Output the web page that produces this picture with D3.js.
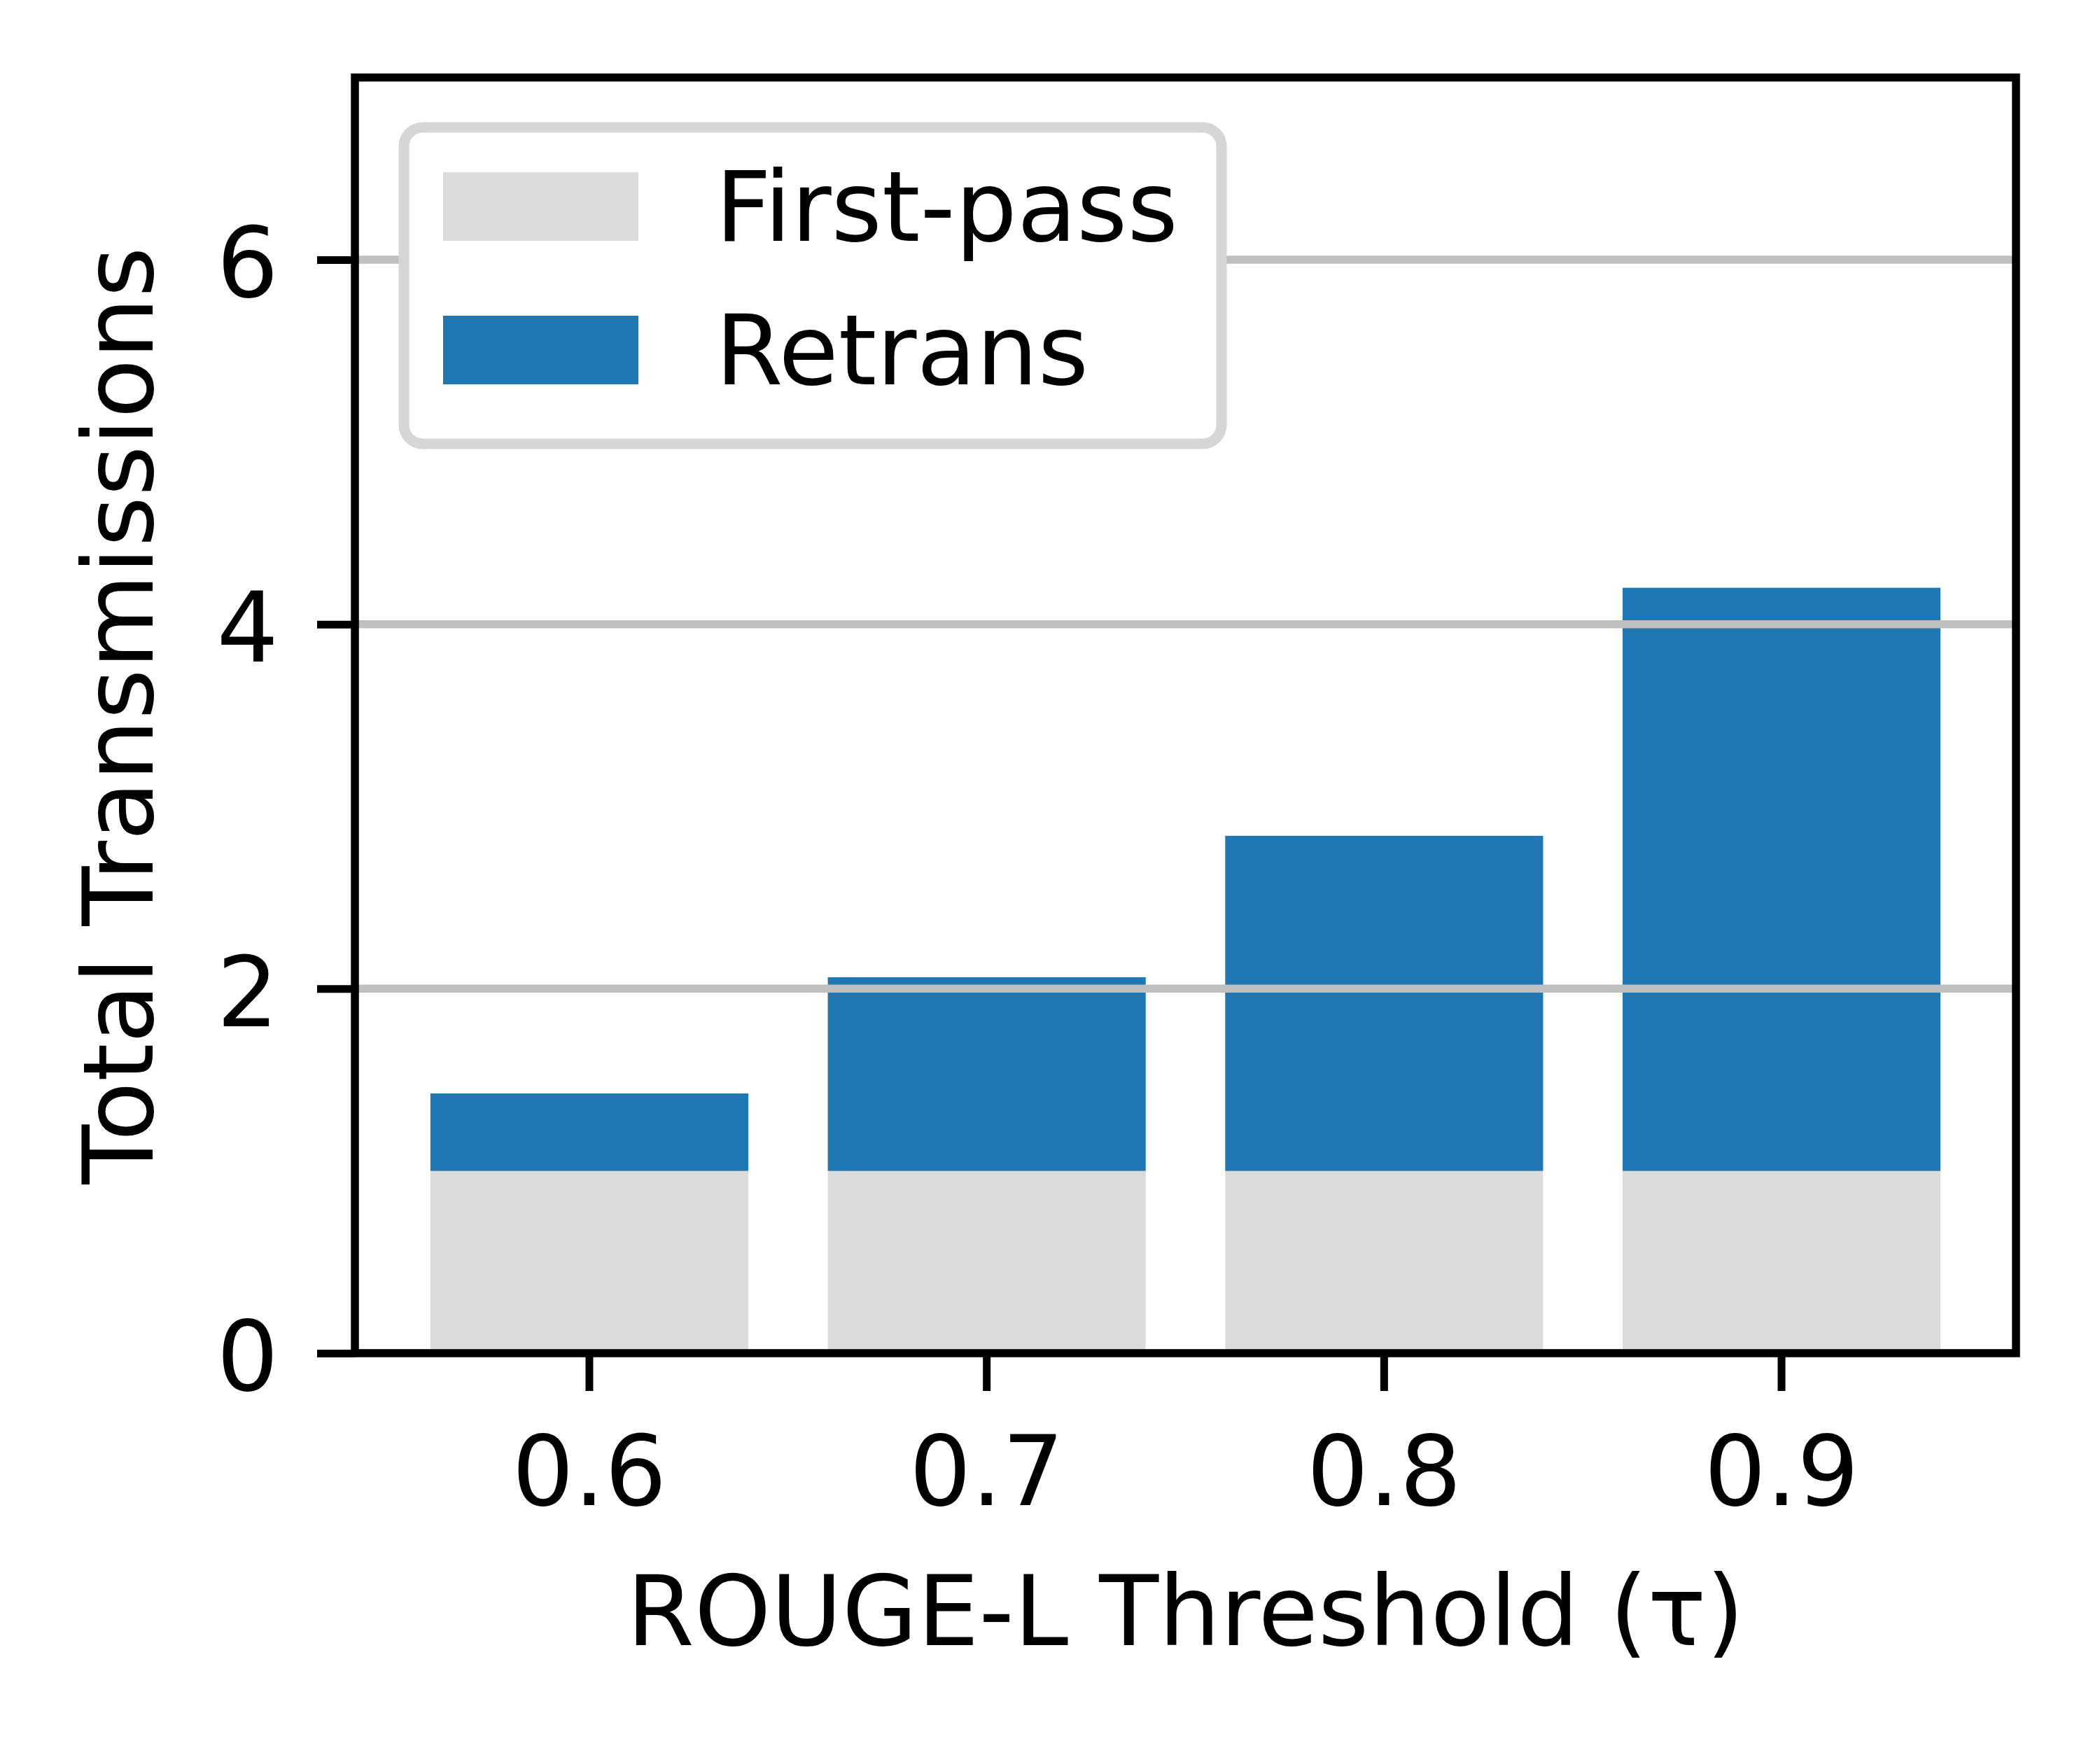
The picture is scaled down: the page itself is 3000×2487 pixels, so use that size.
<!DOCTYPE html>
<html>
<head>
<meta charset="utf-8">
<script src="https://cdn.jsdelivr.net/npm/d3@7"></script>
<style>
  html, body { margin: 0; padding: 0; background: #ffffff; }
  svg { display: block; }
  text { font-family: "DejaVu Sans", sans-serif; fill: #000; }
</style>
</head>
<body>
<svg id="chart" width="3000" height="2487"></svg>
<script>
// ---- data ----
const categories = ["0.6", "0.7", "0.8", "0.9"];
const firstPass = [1.0, 1.0, 1.0, 1.0];
const retrans = [0.425, 1.063, 1.839, 3.20];
const yTicks = [0, 2, 4, 6];
const seriesNames = ["First-pass", "Retrans"];
const seriesColors = ["#dcdcdc", "#1f77b4"];
const xLabel = "ROUGE-L Threshold (\u03c4)";
const yLabel = "Total Transmissions";

(function () {
// ---- layout ----
const W = 3000, H = 2487;
const pL = 507, pR = 2880, pT = 110.7, pB = 1933;
const fs = 139;
const spineW = 11.5, tickLen = 54;

const svg = d3.select("#chart");
svg.append("rect").attr("width", W).attr("height", H).attr("fill", "#fff");

const x = d3.scaleBand().domain(categories).range([pL, pR])
  .paddingInner(0.2).paddingOuter(0.19);
const y = d3.scaleLinear().domain([0, 7]).range([pB, pT]);

const rows = categories.map((c, i) => ({ c, fp: firstPass[i], rt: retrans[i] }));

// bars
const gBars = svg.append("g");
gBars.selectAll("rect.fp").data(rows).enter().append("rect")
  .attr("class", "fp")
  .attr("x", d => x(d.c)).attr("width", x.bandwidth())
  .attr("y", d => y(d.fp)).attr("height", d => y(0) - y(d.fp))
  .attr("fill", seriesColors[0]);
gBars.selectAll("rect.rt").data(rows).enter().append("rect")
  .attr("class", "rt")
  .attr("x", d => x(d.c)).attr("width", x.bandwidth())
  .attr("y", d => y(d.fp + d.rt)).attr("height", d => y(d.fp) - y(d.fp + d.rt))
  .attr("fill", seriesColors[1]);

// gridlines (drawn above bars)
svg.append("g").selectAll("line").data(yTicks).enter().append("line")
  .attr("x1", pL).attr("x2", pR)
  .attr("y1", d => y(d)).attr("y2", d => y(d))
  .attr("stroke", "#bfbfbf").attr("stroke-width", 11.5);

// axes
const xAxis = svg.append("g").attr("transform", `translate(0,${pB})`)
  .call(d3.axisBottom(x).tickSize(tickLen).tickPadding(0));
xAxis.select(".domain").remove();
xAxis.selectAll(".tick line").attr("stroke", "#000").attr("stroke-width", 11);
xAxis.selectAll(".tick text")
  .attr("y", 2150 - pB).attr("dy", 0)
  .attr("font-size", fs).attr("font-family", "DejaVu Sans").attr("fill", "#000");

const yAxis = svg.append("g").attr("transform", `translate(${pL},0)`)
  .call(d3.axisLeft(y).tickValues(yTicks).tickSize(tickLen).tickPadding(55).tickFormat(d3.format("d")));
yAxis.select(".domain").remove();
yAxis.selectAll(".tick line").attr("stroke", "#000").attr("stroke-width", 11);
yAxis.selectAll(".tick text")
  .attr("dy", "0.38em")
  .attr("font-size", fs).attr("font-family", "DejaVu Sans").attr("fill", "#000");

// spines
svg.append("rect")
  .attr("x", pL).attr("y", pT)
  .attr("width", pR - pL).attr("height", pB - pT)
  .attr("fill", "none").attr("stroke", "#000").attr("stroke-width", spineW)
  .attr("stroke-linejoin", "miter");

// axis labels
svg.append("text")
  .attr("x", (pL + pR) / 2).attr("y", 2350)
  .attr("text-anchor", "middle").attr("font-size", fs)
  .text(xLabel);
svg.append("text")
  .attr("transform", `translate(218,${(pT + pB) / 2}) rotate(-90)`)
  .attr("text-anchor", "middle").attr("font-size", fs)
  .text(yLabel);

// legend
const lg = svg.append("g");
lg.append("rect")
  .attr("x", 577).attr("y", 182).attr("width", 1745 - 577).attr("height", 634 - 182)
  .attr("rx", 27).attr("ry", 27)
  .attr("fill", "#fff").attr("stroke", "#d6d6d6").attr("stroke-width", 15);
const swTop = [246, 451];
const baselines = [344, 549];
seriesNames.forEach((name, i) => {
  lg.append("rect")
    .attr("x", 633).attr("y", swTop[i]).attr("width", 912 - 633).attr("height", 98)
    .attr("fill", seriesColors[i]);
  lg.append("text")
    .attr("x", 1022).attr("y", baselines[i])
    .attr("font-size", fs).text(name);
});
})();
</script>
</body>
</html>
